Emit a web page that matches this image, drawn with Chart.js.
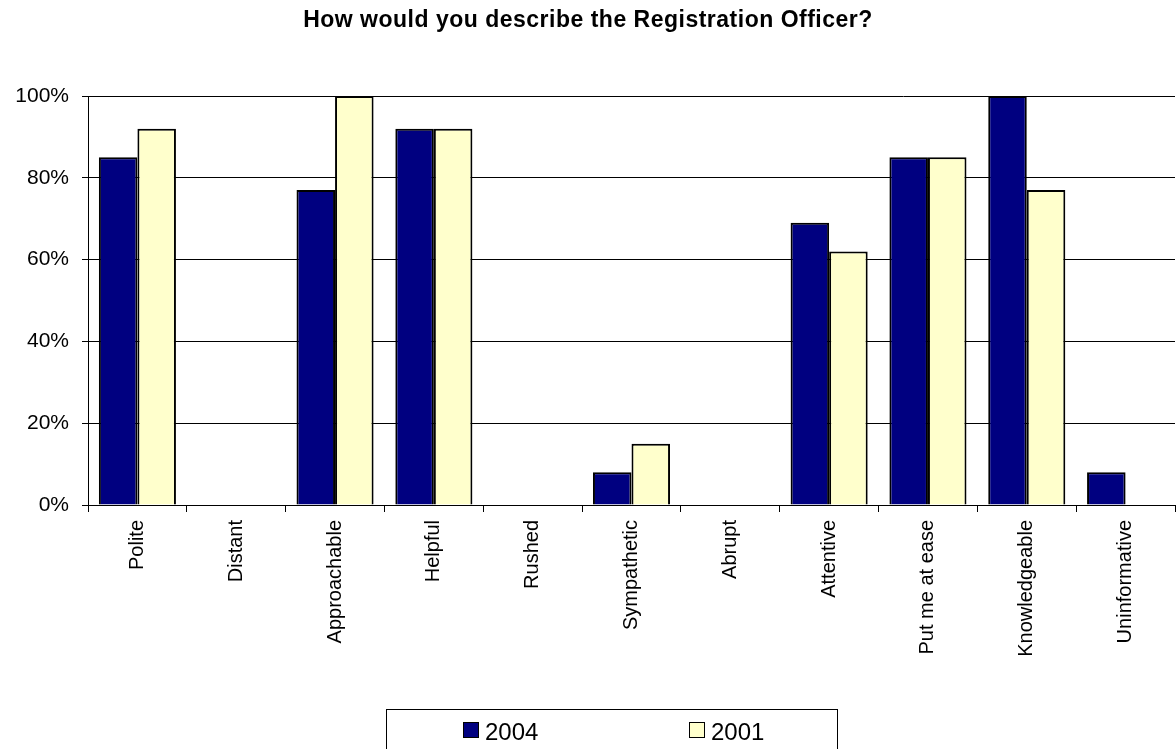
<!DOCTYPE html>
<html>
<head>
<meta charset="utf-8">
<script src="https://cdn.jsdelivr.net/npm/chart.js@4"></script>
<style>
  html, body { margin: 0; padding: 0; background: #fff; }
  #wrap { position: relative; width: 1176px; height: 749px; font-family: Arial, "Liberation Sans", sans-serif; }
  #title { position: absolute; top: 6px; left: 0; width: 1176px; text-align: center; font-weight: bold; font-size: 23px; letter-spacing: 0.5px; color: #000; }
  #legend { position: absolute; left: 386px; top: 709px; width: 452px; height: 60px; border: 1px solid #000; box-sizing: border-box; }
  .item { position: absolute; top: 10px; font-size: 24px; line-height: 24px; color: #000; display: flex; align-items: flex-start; }
  .swatch { width: 16px; height: 16px; border: 1px solid #000; box-sizing: border-box; margin: 2px 6px 0 0; }
</style>
</head>
<body>
<div id="wrap">
  <canvas id="chart" width="1176" height="749"></canvas>
  <div id="title">How would you describe the Registration Officer?</div>
  <div id="legend"></div>
</div>
<script>
const labels = ["Polite", "Distant", "Approachable", "Helpful", "Rushed", "Sympathetic", "Abrupt", "Attentive", "Put me at ease", "Knowledgeable", "Uninformative"];
const y2004 = [85, 0, 77, 92, 0, 8, 0, 69, 85, 100, 8];
const y2001 = [92, 0, 100, 92, 0, 15, 0, 62, 85, 77, 0];
const yTicks = [0, 20, 40, 60, 80, 100];

const COLORS = { y2004: "#000080", y2001: "#FFFFCC", line: "#000" };
const FONT = "Arial, 'Liberation Sans', sans-serif";

Chart.defaults.color = "#000";
Chart.defaults.font.family = FONT;

const series = [
  { label: "2004", data: y2004, color: COLORS.y2004, x: 76 },
  { label: "2001", data: y2001, color: COLORS.y2001, x: 302 },
];

// legend sits in its own box under the axis labels
document.getElementById("legend").innerHTML = series
  .map((s) => `<div class="item" style="left:${s.x}px"><span class="swatch" style="background:${s.color}"></span>${s.label}</div>`)
  .join("");

new Chart(document.getElementById("chart"), {
  type: "bar",
  data: {
    labels,
    datasets: series.map((s) => ({
      label: s.label,
      data: s.data,
      backgroundColor: s.color,
      borderColor: COLORS.line,
      borderWidth: 2,
      barPercentage: 1,
      categoryPercentage: 0.78,
    })),
  },
  options: {
    responsive: false,
    animation: false,
    devicePixelRatio: 1,
    layout: { padding: { top: 96, right: 1, left: 0, bottom: 0 } },
    plugins: { legend: { display: false }, tooltip: { enabled: false } },
    scales: {
      x: {
        afterFit: (s) => { s.height = 244; },
        grid: { offset: true, drawOnChartArea: false, color: COLORS.line, tickLength: 7 },
        border: { color: COLORS.line },
        ticks: { minRotation: 90, maxRotation: 90, padding: 8, font: { size: 20 }, autoSkip: false },
      },
      y: {
        min: 0,
        max: 100,
        afterFit: (s) => { s.width = 88; },
        afterBuildTicks: (s) => { s.ticks = yTicks.map((v) => ({ value: v })); },
        grid: { color: COLORS.line, tickLength: 6 },
        border: { color: COLORS.line },
        ticks: { padding: 13, font: { size: 21 }, callback: (v) => v + "%" },
      },
    },
  },
});
</script>
</body>
</html>
